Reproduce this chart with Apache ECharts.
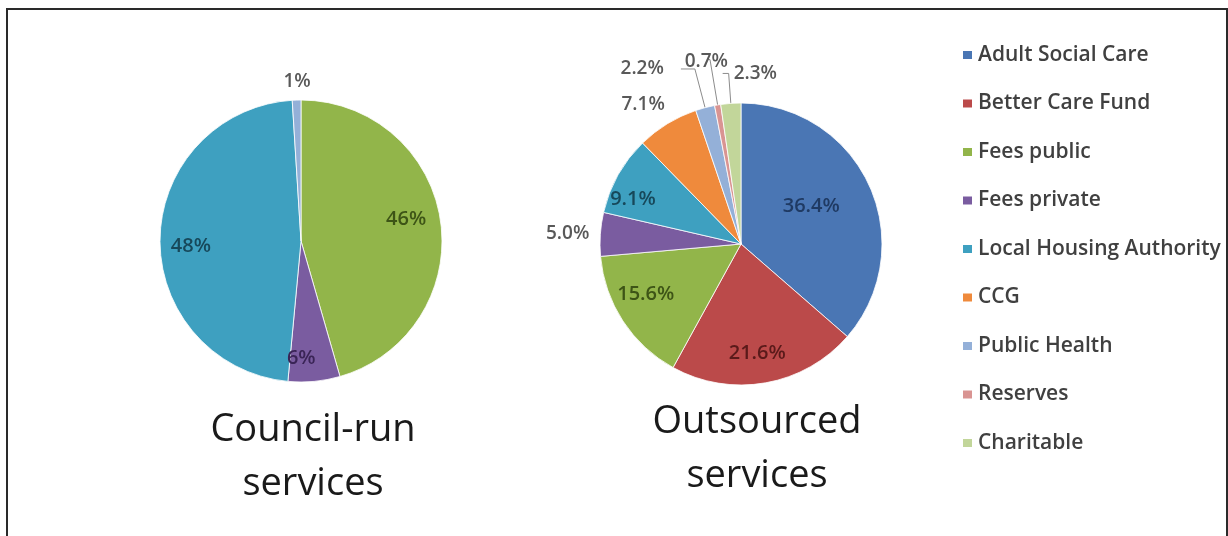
<!DOCTYPE html>
<html><head><meta charset="utf-8">
<script src="https://cdn.jsdelivr.net/npm/echarts@6/dist/echarts.min.js"></script>
<style>html,body{margin:0;padding:0;background:#fff}#c{width:1228px;height:536px}</style>
</head><body><div id="c"></div><script>
// ---- data ----
const legendNames = ['Adult Social Care', 'Better Care Fund', 'Fees public', 'Fees private', 'Local Housing Authority', 'CCG', 'Public Health', 'Reserves', 'Charitable'];
const outsourcedValues = [36.4, 21.6, 15.6, 5.0, 9.1, 7.1, 2.2, 0.7, 2.3];
const councilNames = ['Fees public', 'Fees private', 'Local Housing Authority', 'Public Health'];
const councilValues = [46, 6, 48, 1];
const chartTitles = ['Council-run\nservices', 'Outsourced\nservices'];

// ---- styles ----
const colors = {
  'Adult Social Care': '#4a76b4', 'Better Care Fund': '#bb4a4a', 'Fees public': '#92b54a',
  'Fees private': '#7a5ca0', 'Local Housing Authority': '#3ea0c0', 'CCG': '#ef8a3c',
  'Public Health': '#94b0d8', 'Reserves': '#d99492', 'Charitable': '#c2d69a'
};
const darkText = {
  'Adult Social Care': '#1f3a63', 'Better Care Fund': '#5a1a1a', 'Fees public': '#3d5416',
  'Fees private': '#3a2456', 'Local Housing Authority': '#17485a'
};
const leftOffsets = { 'Fees public': [-4, -6], 'Fees private': [-10, 8], 'Local Housing Authority': [0, 7] };
const rightOffsets = { 'Adult Social Care': [-30, 8], 'Better Care Fund': [-3, 1], 'Fees public': [-3, -10], 'Local Housing Authority': [-12, 9] };
const FONT = "'Open Sans', sans-serif";
const R = 141;
const leftC = [301, 241], rightC = [741, 244];
const outsideLbl = { color: '#595959', fontSize: 19, fontWeight: 600, fontFamily: FONT };

const councilInside = { 'Fees public': 1, 'Fees private': 1, 'Local Housing Authority': 1 };
const outInside = { 'Adult Social Care': 1, 'Better Care Fund': 1, 'Fees public': 1, 'Local Housing Authority': 1 };
const outLine = {
  'Fees private': { show: false, length: 6, length2: 0 },
  'CCG': { show: false, length: 22, length2: 0 },
  'Public Health': { show: true, length: 40, length2: 14 },
  'Reserves': { show: true, length: 46, length2: 2 },
  'Charitable': { show: true, length: 30, length2: 6 }
};

function mainData(names, values, insideMap, lines, fmt) {
  return names.map((n, i) => {
    const inside = !!insideMap[n];
    const ln = lines[n] || { show: false, length: 20, length2: 0 };
    return {
      name: n, value: values[i],
      itemStyle: { color: colors[n] },
      label: inside ? { show: false } : Object.assign({ show: true, position: 'outside', formatter: fmt(values[i]) }, outsideLbl),
      labelLine: { show: ln.show, length: ln.length, length2: ln.length2, lineStyle: { color: '#8c8c8c', width: 1 } }
    };
  });
}
function labelData(names, values, insideMap, offsets, fmt) {
  return names.map((n, i) => ({
    name: n, value: values[i],
    itemStyle: { color: 'rgba(0,0,0,0)', borderWidth: 0 },
    label: insideMap[n] ? { show: true, position: 'inside', formatter: fmt(values[i]), color: darkText[n], fontSize: 20, fontWeight: 600, fontFamily: FONT, offset: offsets[n] || [0, 0] } : { show: false },
    labelLine: { show: false }
  }));
}
const fmtInt = v => v + '%';
const fmtDec = v => v.toFixed(1) + '%';
const rightMoves = { 5: { dx: 14 }, 6: { dx: -12 }, 7: { dx: 25, dy: 2 }, 8: { dx: 16, align: 'left' } };

const option = {
  backgroundColor: '#fff',
  animation: false,
  title: [
    { text: chartTitles[0], left: 308, top: 398, textAlign: 'center',
      textStyle: { fontFamily: FONT, fontSize: 38, fontWeight: 'normal', color: '#1a1a1a', lineHeight: 54 } },
    { text: chartTitles[1], left: 752, top: 390, textAlign: 'center',
      textStyle: { fontFamily: FONT, fontSize: 38, fontWeight: 'normal', color: '#1a1a1a', lineHeight: 54 } }
  ],
  legend: {
    data: legendNames, orient: 'vertical', left: 956, top: 38,
    itemWidth: 11, itemHeight: 10, itemGap: 24.5, icon: 'rect',
    textStyle: { fontFamily: FONT, fontSize: 21, fontWeight: 600, color: '#404040', lineHeight: 24, padding: [0, 0, 0, 0] },
    selectedMode: false
  },
  graphic: [
    { type: 'polyline', silent: true, shape: { points: [[7, 536], [7, 9], [1227, 9], [1227, 536]] }, style: { stroke: '#2a2a2a', lineWidth: 2, fill: null } }
  ],
  series: [
    { type: 'pie', center: leftC, radius: [0, R], startAngle: 90, clockwise: true, avoidLabelOverlap: false,
      itemStyle: { borderColor: '#fff', borderWidth: 0.8 }, emphasis: { disabled: true }, silent: true,
      data: mainData(councilNames, councilValues, councilInside, { 'Public Health': { show: false, length: 18, length2: 0 } }, fmtInt),
      labelLayout: p => (p.dataIndex === 3 ? { align: 'center', dx: 6 } : {}) },
    { type: 'pie', center: rightC, radius: [0, R], startAngle: 90, clockwise: true, avoidLabelOverlap: false,
      itemStyle: { borderColor: '#fff', borderWidth: 0.8 }, emphasis: { disabled: true }, silent: true,
      data: mainData(legendNames, outsourcedValues, outInside, outLine, fmtDec),
      labelLayout: p => rightMoves[p.dataIndex] || {} },
    { type: 'pie', center: leftC, radius: [R * 0.52, R], startAngle: 90, clockwise: true, avoidLabelOverlap: false,
      silent: true, emphasis: { disabled: true }, legendHoverLink: false,
      data: labelData(councilNames, councilValues, councilInside, leftOffsets, fmtInt) },
    { type: 'pie', center: rightC, radius: [R * 0.52, R], startAngle: 90, clockwise: true, avoidLabelOverlap: false,
      silent: true, emphasis: { disabled: true }, legendHoverLink: false,
      data: labelData(legendNames, outsourcedValues, outInside, rightOffsets, fmtDec) }
  ]
};
const chart = echarts.init(document.getElementById('c'), null, { renderer: 'canvas' });
chart.setOption(option);
</script></body></html>
